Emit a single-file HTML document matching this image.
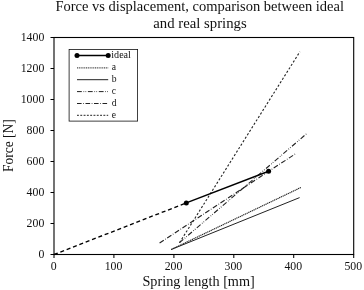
<!DOCTYPE html><html><head><meta charset="utf-8"><style>html,body{margin:0;padding:0;background:#fff}svg{display:block;will-change:transform;opacity:0.999}text{font-family:"Liberation Serif",serif;fill:#111}</style></head><body>
<svg width="364" height="290" viewBox="0 0 364 290">
<rect width="364" height="290" fill="#fff"/>
<text x="199.7" y="11.2" font-size="13.8" text-anchor="middle" textLength="288.6" lengthAdjust="spacingAndGlyphs">Force vs displacement, comparison between ideal</text>
<text x="200" y="27.5" font-size="13.8" text-anchor="middle" textLength="93.4" lengthAdjust="spacingAndGlyphs">and real springs</text>
<rect x="54" y="37.5" width="299.7" height="217" fill="none" stroke="#000" stroke-width="1.1"/>
<line x1="54.0" y1="254.5" x2="54.0" y2="258" stroke="#000" stroke-width="1.05"/>
<text x="53.6" y="269.8" font-size="11.8" text-anchor="middle">0</text>
<line x1="113.9" y1="254.5" x2="113.9" y2="258" stroke="#000" stroke-width="1.05"/>
<text x="113.5" y="269.8" font-size="11.8" text-anchor="middle">100</text>
<line x1="173.9" y1="254.5" x2="173.9" y2="258" stroke="#000" stroke-width="1.05"/>
<text x="173.5" y="269.8" font-size="11.8" text-anchor="middle">200</text>
<line x1="233.8" y1="254.5" x2="233.8" y2="258" stroke="#000" stroke-width="1.05"/>
<text x="233.4" y="269.8" font-size="11.8" text-anchor="middle">300</text>
<line x1="293.7" y1="254.5" x2="293.7" y2="258" stroke="#000" stroke-width="1.05"/>
<text x="293.3" y="269.8" font-size="11.8" text-anchor="middle">400</text>
<line x1="353.7" y1="254.5" x2="353.7" y2="258" stroke="#000" stroke-width="1.05"/>
<text x="353.3" y="269.8" font-size="11.8" text-anchor="middle">500</text>
<line x1="50.5" y1="254.5" x2="54" y2="254.5" stroke="#000" stroke-width="1.05"/>
<text x="44.3" y="258.1" font-size="11.8" text-anchor="end">0</text>
<line x1="50.5" y1="223.5" x2="54" y2="223.5" stroke="#000" stroke-width="1.05"/>
<text x="44.3" y="227.1" font-size="11.8" text-anchor="end">200</text>
<line x1="50.5" y1="192.5" x2="54" y2="192.5" stroke="#000" stroke-width="1.05"/>
<text x="44.3" y="196.1" font-size="11.8" text-anchor="end">400</text>
<line x1="50.5" y1="161.5" x2="54" y2="161.5" stroke="#000" stroke-width="1.05"/>
<text x="44.3" y="165.1" font-size="11.8" text-anchor="end">600</text>
<line x1="50.5" y1="130.5" x2="54" y2="130.5" stroke="#000" stroke-width="1.05"/>
<text x="44.3" y="134.1" font-size="11.8" text-anchor="end">800</text>
<line x1="50.5" y1="99.5" x2="54" y2="99.5" stroke="#000" stroke-width="1.05"/>
<text x="44.3" y="103.1" font-size="11.8" text-anchor="end">1000</text>
<line x1="50.5" y1="68.5" x2="54" y2="68.5" stroke="#000" stroke-width="1.05"/>
<text x="44.3" y="72.1" font-size="11.8" text-anchor="end">1200</text>
<line x1="50.5" y1="37.5" x2="54" y2="37.5" stroke="#000" stroke-width="1.05"/>
<text x="44.3" y="41.1" font-size="11.8" text-anchor="end">1400</text>
<text x="198.6" y="286.1" font-size="13.6" text-anchor="middle" textLength="112.4" lengthAdjust="spacingAndGlyphs">Spring length [mm]</text>
<text transform="translate(12.8,145.6) rotate(-90)" font-size="13.6" text-anchor="middle" textLength="52.7" lengthAdjust="spacingAndGlyphs">Force [N]</text>
<line x1="171.2" y1="249.5" x2="301.5" y2="187.2" stroke="#222" stroke-width="1.15" stroke-dasharray="1.25 0.65"/>
<line x1="171.2" y1="249.5" x2="299.6" y2="197.6" stroke="#222" stroke-width="1.0"/>
<line x1="159.6" y1="243.0" x2="295.9" y2="153.5" stroke="#222" stroke-width="1.1" stroke-dasharray="5 1.7 0.7 1.7"/>
<line x1="179.5" y1="242.7" x2="307.4" y2="133.0" stroke="#222" stroke-width="1.1" stroke-dasharray="5 1.8 0.7 1.4 0.7 1.8"/>
<line x1="179.5" y1="242.7" x2="299.9" y2="51.7" stroke="#222" stroke-width="1.1" stroke-dasharray="2.2 1.9"/>
<line x1="54.0" y1="254.5" x2="186.3" y2="202.9" stroke="#000" stroke-width="1.35" stroke-dasharray="4 2.8"/>
<line x1="186.3" y1="202.9" x2="268.6" y2="171.2" stroke="#000" stroke-width="1.5"/>
<circle cx="186.3" cy="202.9" r="2.5" fill="#000"/><circle cx="268.6" cy="171.2" r="2.5" fill="#000"/>
<rect x="69.1" y="49.5" width="68.5" height="71.6" fill="#fff" stroke="#111" stroke-width="0.8"/>
<line x1="77.0" y1="55.5" x2="108.2" y2="55.5" stroke="#000" stroke-width="1.5"/>
<circle cx="77" cy="55.5" r="2.5" fill="#000"/><circle cx="108.2" cy="55.5" r="2.5" fill="#000"/>
<text x="111.3" y="58.4" font-size="9.6" textLength="19.6" lengthAdjust="spacingAndGlyphs">ideal</text>
<line x1="77.0" y1="67.9" x2="108.2" y2="67.9" stroke="#222" stroke-width="1.0" stroke-dasharray="1.1 0.7"/>
<text x="111.8" y="70.2" font-size="9.6">a</text>
<line x1="77.0" y1="79.7" x2="108.2" y2="79.7" stroke="#222" stroke-width="1.0"/>
<text x="111.8" y="82.0" font-size="9.6">b</text>
<line x1="77.0" y1="91.6" x2="108.2" y2="91.6" stroke="#222" stroke-width="1.0" stroke-dasharray="4.8 1.7 0.7 1.3 0.7 1.7"/>
<text x="111.8" y="93.9" font-size="9.6">c</text>
<line x1="77.0" y1="103.5" x2="108.2" y2="103.5" stroke="#222" stroke-width="1.0" stroke-dasharray="4.6 1.6 0.7 1.6"/>
<text x="111.8" y="105.8" font-size="9.6">d</text>
<line x1="77.0" y1="115.3" x2="108.2" y2="115.3" stroke="#222" stroke-width="1.0" stroke-dasharray="1.9 1.4"/>
<text x="111.8" y="117.6" font-size="9.6">e</text>
</svg></body></html>
